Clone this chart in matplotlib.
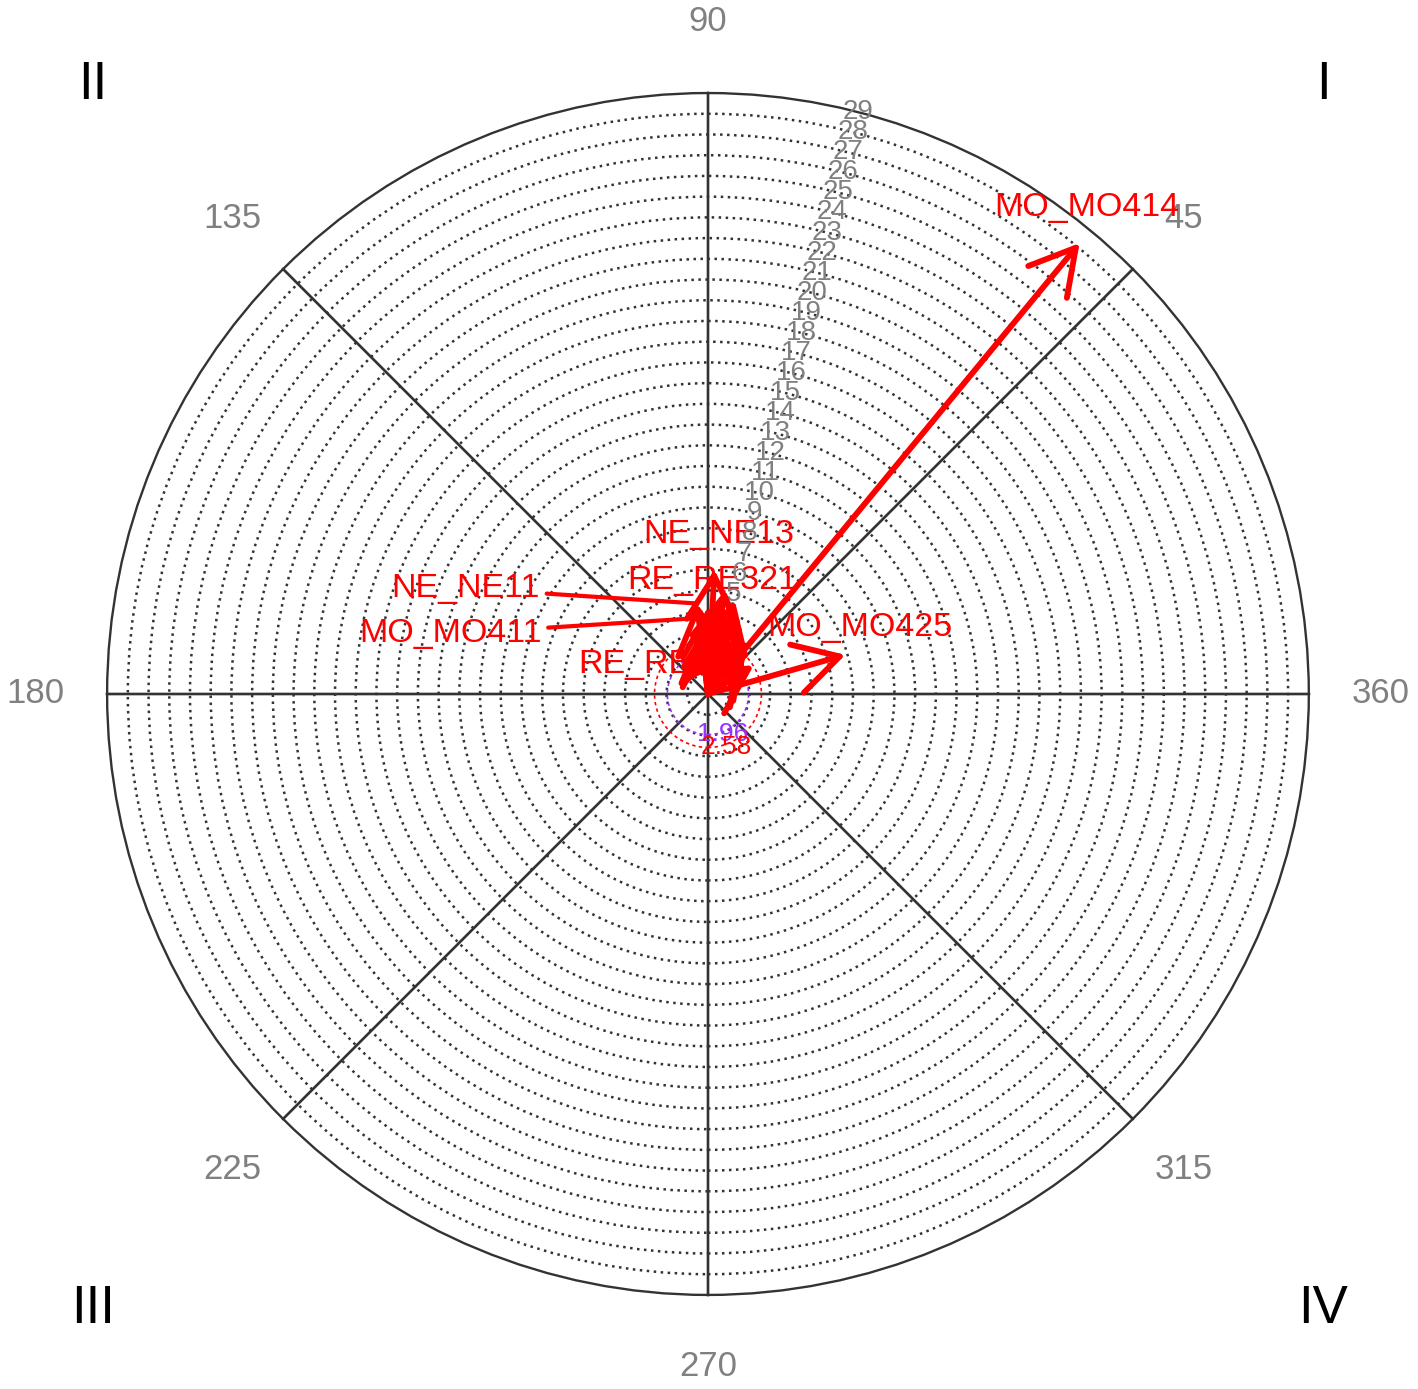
import numpy as np
import matplotlib
matplotlib.use('Agg')
import matplotlib.pyplot as plt
from matplotlib.patches import Circle, FancyArrowPatch

plt.rcParams['font.family'] = ['Liberation Sans', 'DejaVu Sans']

# ring values and axis labels
ring_values = list(range(1, 30))
angle_ticks = [45, 90, 135, 180, 225, 270, 315, 360]
quadrant_names = ['I', 'II', 'III', 'IV']
sig_values = [1.96, 2.58]
sig_colors = ['#9933ff', '#ff0000']

# labelled vectors: radius (length) and angle in degrees
vec_names = ['MO_MO414', 'MO_MO425', 'NE_NE13', 'RE_RE321', 'NE_NE11', 'MO_MO411', 'RE_RE311']
vec_len = [28.2, 6.9, 6.0, 5.1, 4.4, 3.7, 2.8]
vec_ang = [50.5, 15.9, 87.0, 80.5, 97.0, 88.5, 58.0]

# unlabelled vectors in the central cluster
other_len = [4.7, 3.7, 2.7, 2.7, 3.1, 2.6, 4.6, 4.0, 2.8, 2.6, 3.3, 3.0, 4.2, 3.5, 2.8]
other_ang = [74.0, 64.0, 46.5, 72.0, 97.0, 50.0, 83.0, 74.4, 92.0, 32.0, 80.0, 70.0, 90.0, 78.0, 62.0]

R = 29
# where the vector names are drawn (x, y) and whether a leader line is used
label_xy = [(18.3, 23.5), (7.35, 3.2), (0.5, 7.7), (0.2, 5.5), (-11.7, 5.1), (-12.45, 2.9), (-2.2, 1.4)]
leader = [False, False, False, False, True, True, False]

fig = plt.figure(figsize=(14.18, 13.89), dpi=100)
ax = fig.add_axes([0, 0, 1, 1])
ax.set_xlim(-34.17, 34.27)
ax.set_ylim(-33.54, 33.49)
ax.axis('off')

grid_col = '#333333'
for r in ring_values[:-1]:
    ax.add_patch(Circle((0, 0), r, fill=False, ls=(0, (1, 1.8)), lw=1.8, ec=grid_col, zorder=1))
ax.add_patch(Circle((0, 0), R, fill=False, lw=1.7, ec=grid_col, zorder=1))

for a in angle_ticks:
    t = np.deg2rad(a)
    ax.plot([0, R * np.cos(t)], [0, R * np.sin(t)], color=grid_col, lw=1.7, zorder=1)
    ax.plot([0, R * np.cos(t + np.pi)], [0, R * np.sin(t + np.pi)], color=grid_col, lw=1.7, zorder=1)
    ax.text(32.45 * np.cos(t), 32.45 * np.sin(t), str(a), fontsize=25, color='#808080',
            ha='center', va='center')

quad_pos = [(29.7, 29.4), (-29.7, 29.4), (-29.7, -29.7), (29.7, -29.7)]
for q, (x, y) in zip(quadrant_names, quad_pos):
    ax.text(x, y, q, fontsize=38, color='black', ha='center', va='center')

# significance circles
for v, c in zip(sig_values, sig_colors):
    ax.add_patch(Circle((0, 0), v, fill=False, ls=(0, (2, 2)), lw=1.2, ec=c, zorder=2))
    t = np.deg2rad(-71)
    ax.text(v * np.cos(t) + 0.05, v * np.sin(t) - 0.1, str(v), fontsize=19, color=c,
            ha='center', va='center', zorder=6)

# vector labels
for name, (x, y), ln, l, a in zip(vec_names, label_xy, leader, vec_len, vec_ang):
    t = np.deg2rad(a)
    if ln:
        ax.annotate(name, xy=(l * np.cos(t), l * np.sin(t)), xytext=(x, y),
                    fontsize=24.5, color='red', ha='center', va='center', zorder=3,
                    arrowprops=dict(arrowstyle='-', color='red', lw=3, shrinkA=3, shrinkB=0))
    else:
        ax.text(x, y, name, fontsize=24.5, color='red', ha='center', va='center', zorder=3)

# ring value labels
lab_t = np.deg2rad(75.5)
for r in ring_values:
    ax.text(r * np.cos(lab_t), r * np.sin(lab_t), str(r), fontsize=20, color='#808080',
            ha='center', va='center', zorder=4)

# vectors
all_len = vec_len + other_len
all_ang = vec_ang + other_ang
for l, a in zip(all_len, all_ang):
    t = np.deg2rad(a)
    arr = FancyArrowPatch((0, 0), (l * np.cos(t), l * np.sin(t)),
                          arrowstyle='->,head_length=1.6,head_width=0.9', mutation_scale=20,
                          color='red', lw=4.2, shrinkA=0, shrinkB=0, zorder=5)
    ax.add_patch(arr)

fig.savefig('out.png', dpi=100)
